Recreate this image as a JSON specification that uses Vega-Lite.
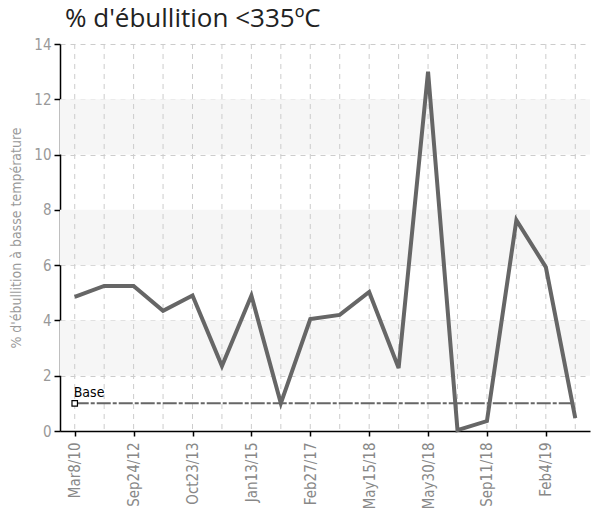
{
  "$schema": "https://vega.github.io/schema/vega-lite/v6.json",
  "width": 530,
  "height": 387,
  "autosize": {"type": "none"},
  "padding": {"left": 60, "top": 44, "right": 10, "bottom": 78},
  "background": "white",
  "title": {
    "text": "% d'ébullition <335ºC",
    "anchor": "start",
    "frame": "group",
    "dx": 5,
    "offset": 5,
    "fontSize": 26,
    "font": "Open Sans",
    "fontWeight": "normal",
    "color": "#222"
  },
  "config": {
    "view": {"stroke": null},
    "axis": {
      "labelFont": "Liberation Sans Narrow, DejaVu Sans Condensed, sans-serif",
      "titleFont": "Liberation Sans Narrow, DejaVu Sans Condensed, sans-serif"
    }
  },
  "data": {
    "values": [
      {"i": 0, "v": 4.85, "base": 1},
      {"i": 1, "v": 5.25, "base": 1},
      {"i": 2, "v": 5.25, "base": 1},
      {"i": 3, "v": 4.35, "base": 1},
      {"i": 4, "v": 4.9, "base": 1},
      {"i": 5, "v": 2.35, "base": 1},
      {"i": 6, "v": 4.9, "base": 1},
      {"i": 7, "v": 1.0, "base": 1},
      {"i": 8, "v": 4.05, "base": 1},
      {"i": 9, "v": 4.2, "base": 1},
      {"i": 10, "v": 5.03, "base": 1},
      {"i": 11, "v": 2.28, "base": 1},
      {"i": 12, "v": 13.0, "base": 1},
      {"i": 13, "v": 0.03, "base": 1},
      {"i": 14, "v": 0.36, "base": 1},
      {"i": 15, "v": 7.63, "base": 1},
      {"i": 16, "v": 5.93, "base": 1},
      {"i": 17, "v": 0.47, "base": 1}
    ]
  },
  "layer": [
    {
      "data": {"values": [{"a": 2, "b": 4}, {"a": 6, "b": 8}, {"a": 10, "b": 12}]},
      "mark": {"type": "rect", "color": "#f6f6f6"},
      "encoding": {
        "x": {"value": 0},
        "x2": {"value": "width"},
        "y": {"field": "a", "type": "quantitative", "scale": {"domain": [0, 14], "nice": false}},
        "y2": {"field": "b"}
      }
    },
    {
      "mark": {"type": "rule", "color": "#cccccc", "strokeDash": [5, 5], "strokeWidth": 1},
      "encoding": {
        "x": {"field": "i", "type": "ordinal"}
      }
    },
    {
      "mark": {"type": "line", "color": "#666666", "strokeWidth": 2, "strokeDash": [14, 2, 4, 2]},
      "encoding": {
        "x": {"field": "i", "type": "ordinal"},
        "y": {"field": "base", "type": "quantitative"}
      }
    },
    {
      "mark": {"type": "line", "color": "#666666", "strokeWidth": 4, "strokeJoin": "miter"},
      "encoding": {
        "x": {
          "field": "i",
          "type": "ordinal",
          "scale": {"type": "point", "padding": 0.5},
          "axis": {
            "title": null,
            "values": [0, 2, 4, 6, 8, 10, 12, 14, 16],
            "labelExpr": "['Mar8/10','','Sep24/12','','Oct23/13','','Jan13/15','','Feb27/17','','May15/18','','May30/18','','Sep11/18','','Feb4/19',''][datum.value]",
            "labelAngle": -90,
            "labelAlign": "right",
            "labelBaseline": "middle",
            "labelColor": "#888888",
            "labelFontSize": 15,
            "labelPadding": 6,
            "domainColor": "#000000",
            "domainWidth": 1.5,
            "tickColor": "#000000",
            "tickWidth": 1.5,
            "tickSize": 5,
            "grid": false
          }
        },
        "y": {
          "field": "v",
          "type": "quantitative",
          "scale": {"domain": [0, 14], "nice": false},
          "axis": {
            "title": "% d'ébullition à basse température",
            "titleColor": "#999999",
            "titleFontSize": 14,
            "titleFontWeight": "normal",
            "titlePadding": 10,
            "values": [0, 2, 4, 6, 8, 10, 12, 14],
            "labelColor": "#999999",
            "labelFontSize": 15,
            "labelPadding": 3,
            "domainColor": "#000000",
            "domainWidth": 1.5,
            "tickColor": "#000000",
            "tickWidth": 1.5,
            "tickSize": 6,
            "grid": true,
            "gridColor": "#cccccc",
            "gridDash": [5, 5]
          }
        }
      }
    },
    {
      "transform": [{"filter": "datum.i == 0"}],
      "mark": {"type": "point", "shape": "square", "filled": true, "fill": "white", "stroke": "#000000", "strokeWidth": 1.2, "size": 30, "opacity": 1},
      "encoding": {
        "x": {"field": "i", "type": "ordinal"},
        "y": {"field": "base", "type": "quantitative"}
      }
    },
    {
      "transform": [{"filter": "datum.i == 0"}],
      "mark": {"type": "text", "text": "Base", "align": "left", "baseline": "bottom", "dx": -1, "dy": -3, "fontSize": 14, "font": "Liberation Sans Narrow, DejaVu Sans Condensed, sans-serif", "color": "#000000"},
      "encoding": {
        "x": {"field": "i", "type": "ordinal"},
        "y": {"field": "base", "type": "quantitative"}
      }
    }
  ]
}
